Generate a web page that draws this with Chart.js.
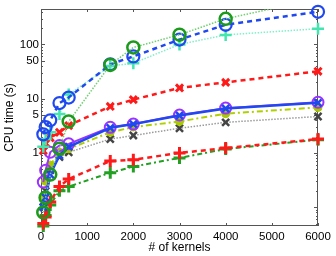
<!DOCTYPE html>
<html><head><meta charset="utf-8">
<script src="https://cdn.jsdelivr.net/npm/chart.js@4"></script>
<style>html,body{margin:0;padding:0;background:#fff}#wrap{width:336px;height:256px}</style>
</head><body><div id="wrap"><canvas id="c"></canvas></div>
<script>
const kernels = [50, 100, 200, 400, 600, 1500, 2000, 3000, 4000, 6000];
const xTicks = [0, 1000, 2000, 3000, 4000, 5000, 6000];
const yTicks = [1, 5, 10, 50, 100];
const blueDashedCircle = [2.2, 3.0, 4.0, 8.3, 10.5, 43, 60, 123, 230, 400];
const cyanDottedPlus = [1.3, 1.8, 2.4, 5.2, 12, 40, 45, 100, 150, 195];
const greenDottedCircle = [0.08, 0.15, 0.4, 1.2, 3.8, 42, 88, 151, 297, 700];
const redDashedX = [1.1, 1.5, 1.9, 2.4, 3.2, 7.2, 9.6, 15.8, 20, 32];
const blueSolidX = [0.1, 0.15, 0.4, 0.9, 1.3, 2.9, 3.4, 4.9, 6.6, 8.4];
const purpleSolidCircle = [0.29, 0.48, 1.03, 1.37, 1.47, 2.97, 3.4, 5.0, 6.7, 8.6];
const yellowDashDotDot = [0.15, 0.3, 0.6, 1.03, 1.19, 2.4, 3.0, 3.8, 5.3, 6.9];
const grayDottedX = [0.1, 0.2, 0.48, 0.84, 1.03, 1.8, 2.1, 2.85, 3.66, 4.7];
const redDashedPlus = [0.05, 0.066, 0.125, 0.24, 0.33, 0.71, 0.75, 1.0, 1.23, 1.8];
const greenDashDotPlus = [0.045, 0.07, 0.11, 0.2, 0.24, 0.43, 0.56, 0.81, 1.18, 1.75];

const pts = arr => arr.map((v, i) => ({x: kernels[i], y: v}));
const clipStd = {left: 8, right: 8, top: 8, bottom: 8};
function ds(data, color, style, lineColor, dash, lw, r, bw, fill, clip) {
  return {data: pts(data), borderColor: lineColor, borderDash: dash, borderWidth: lw,
    pointStyle: style, pointRadius: r, pointBorderColor: color, pointBorderWidth: bw,
    pointBackgroundColor: fill || 'rgba(0,0,0,0)', pointHoverRadius: r,
    tension: 0, fill: false, clip: clip || clipStd};
}
const datasets = [
  ds(greenDottedCircle, '#1c9a1c', 'circle', '#6fd06f', [1.5, 1.5], 1.5, 6, 2.5, null, {left: 8, right: 8, top: 0, bottom: 8}),
  ds(blueDashedCircle, '#2048f0', 'circle', '#2048f0', [5, 4], 2.5, 6, 2.2, null),
  ds(cyanDottedPlus, '#44e6b0', 'cross', '#7ff0c8', [1.5, 1.5], 1.5, 6, 2.5, null),
  ds(redDashedX, '#ff1a1a', 'crossRot', '#ff1a1a', [5, 4], 2.5, 5, 3, null),
  ds(blueSolidX, '#2048f0', 'crossRot', '#2048f0', [], 2.5, 5, 2.5, null),
  ds(purpleSolidCircle, '#9a33ff', 'circle', '#9a33ff', [], 2, 5.5, 2, null),
  ds(yellowDashDotDot, '#a8c800', 'circle', '#b0d000', [6, 3, 2, 3], 2, 4, 1, '#a8c800'),
  ds(grayDottedX, '#444444', 'crossRot', '#9a9a9a', [1.5, 1.5], 1.5, 5, 2.5, null),
  ds(redDashedPlus, '#ff1a1a', 'cross', '#ff1a1a', [5, 4], 2.5, 6, 3, null),
  ds(greenDashDotPlus, '#22a022', 'cross', '#22a022', [5, 3, 2, 3], 2, 6, 3, null)
];

const boxPlugin = {
  id: 'box',
  beforeDatasetsDraw(chart) {
    const {ctx, chartArea: a, scales: {x, y}} = chart;
    ctx.save();
    ctx.strokeStyle = '#555';
    ctx.lineWidth = 1;
    ctx.strokeRect(a.left + 0.5, a.top + 0.5, a.right - a.left - 1, a.bottom - a.top - 1);
    ctx.beginPath();
    xTicks.forEach(v => {
      const px = Math.round(x.getPixelForValue(v)) + 0.5;
      ctx.moveTo(px, a.bottom); ctx.lineTo(px, a.bottom - 3);
      ctx.moveTo(px, a.top); ctx.lineTo(px, a.top + 3);
    });
    for (let d = 0.01; d <= 1000; d *= 10) {
      for (let m = 1; m <= 9; m++) {
        const v = m * d;
        if (v < y.min || v > y.max) continue;
        const major = yTicks.some(t => Math.abs(t - v) / t < 1e-6) || m === 1;
        const len = major ? 4 : 2;
        const py = Math.round(y.getPixelForValue(v)) + 0.5;
        ctx.moveTo(a.left, py); ctx.lineTo(a.left + len, py);
        ctx.moveTo(a.right, py); ctx.lineTo(a.right - len, py);
      }
    }
    ctx.stroke();
    ctx.restore();
  }
};

const tickFont = {family: 'Liberation Sans', size: 11.5};
const titleFont = {family: 'Liberation Sans', size: 12};
new Chart(document.getElementById('c'), {
  type: 'line',
  data: {datasets},
  options: {
    responsive: true, maintainAspectRatio: false, animation: false,
    layout: {padding: {left: 0, right: 18, top: 8, bottom: 0}},
    plugins: {legend: {display: false}, tooltip: {enabled: false}},
    scales: {
      x: {
        type: 'linear', min: 0, max: 6000,
        grid: {display: false, drawTicks: false},
        border: {display: false},
        afterBuildTicks: s => { s.ticks = xTicks.map(v => ({value: v})); },
        ticks: {font: tickFont, color: '#000', padding: 4, maxRotation: 0, autoSkip: false,
          callback: v => String(v)},
        title: {display: true, text: '# of kernels', font: titleFont, color: '#000', padding: {top: 0, bottom: 1}},
        afterFit: s => { s.height = 30; }
      },
      y: {
        type: 'logarithmic', min: 0.045, max: 450,
        grid: {display: false, drawTicks: false},
        border: {display: false},
        afterBuildTicks: s => { s.ticks = yTicks.map(v => ({value: v})); },
        ticks: {font: tickFont, color: '#000', padding: 2, autoSkip: false, callback: v => String(v)},
        title: {display: true, text: 'CPU time (s)', font: titleFont, color: '#000', padding: {top: 2, bottom: 0}},
        afterFit: s => { s.width = 41; }
      }
    }
  },
  plugins: [boxPlugin]
});
</script>
</body></html>
